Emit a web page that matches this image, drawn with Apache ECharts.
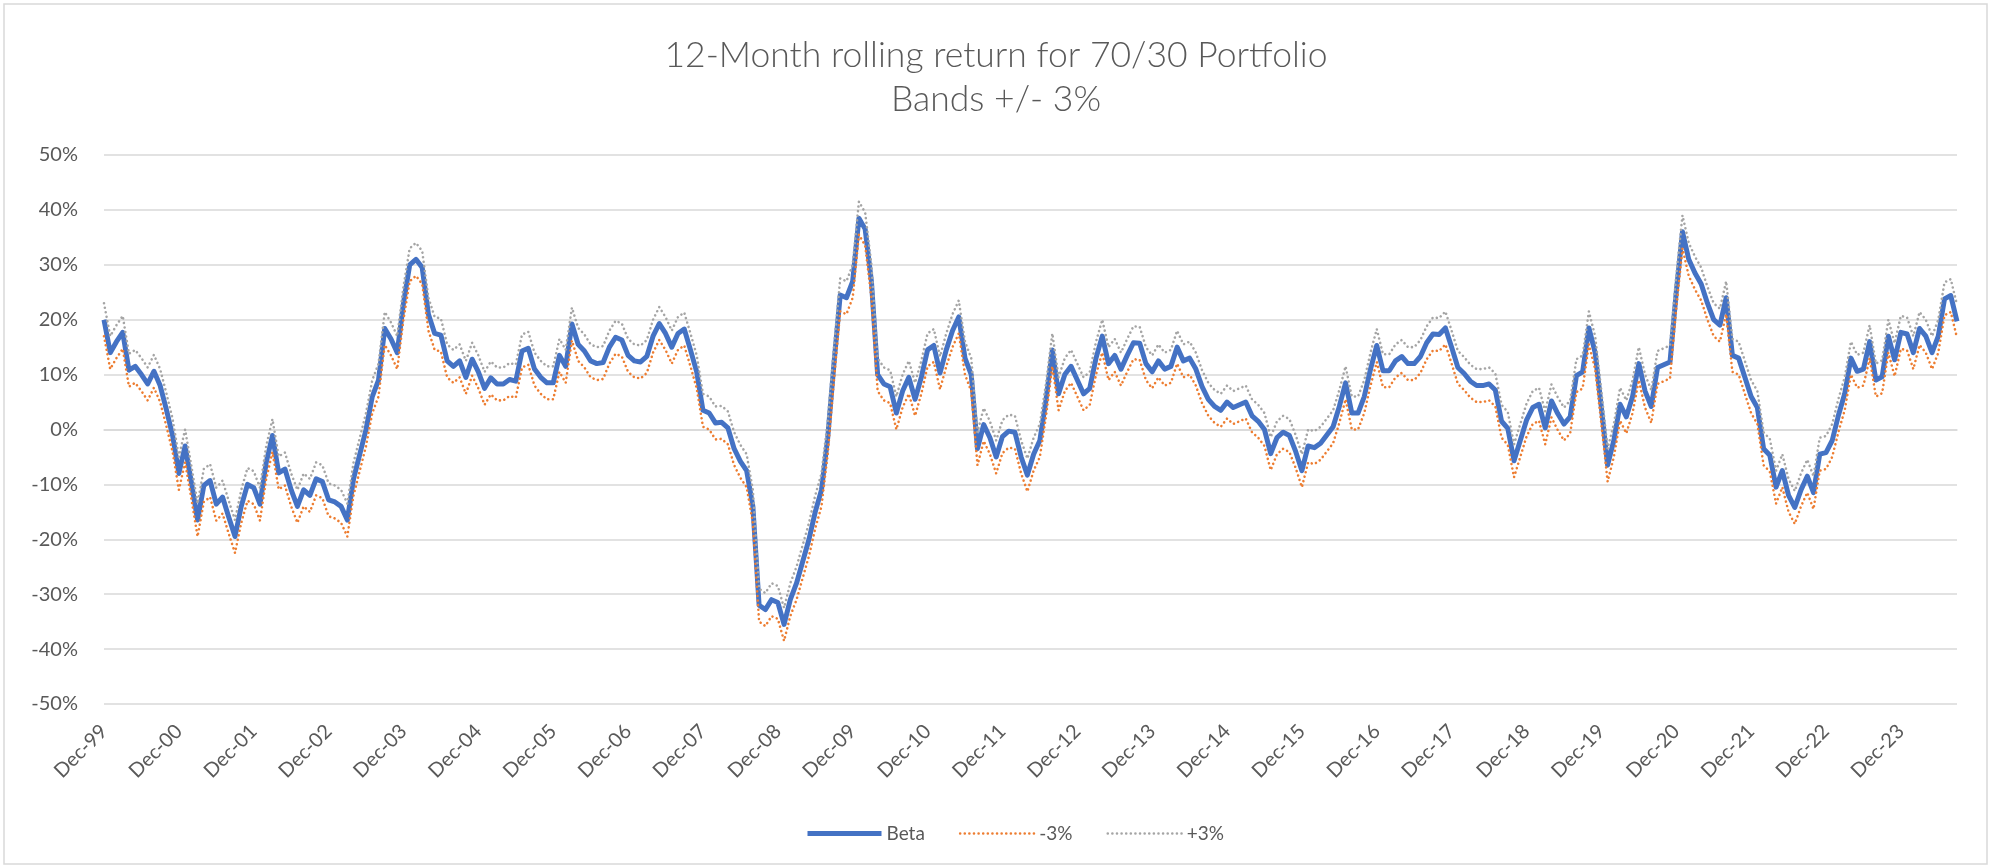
<!DOCTYPE html>
<html>
<head>
<meta charset="utf-8">
<title>12-Month rolling return for 70/30 Portfolio</title>
<script src="https://cdn.jsdelivr.net/npm/echarts@6/dist/echarts.min.js"></script>
<style>
    html, body { margin: 0; padding: 0; background: #fff; }
    #app-chart { width: 1992px; height: 868px; }
</style>
</head>
<body>
<div id="app-chart"></div>
<script>
//======================================================================================================================
// Data (monthly, Dec-99 .. Sep-24, values in %)
//======================================================================================================================

var firstYear = 1999;
var firstMonth = 11; // December
var monthNames = ['Jan', 'Feb', 'Mar', 'Apr', 'May', 'Jun', 'Jul', 'Aug', 'Sep', 'Oct', 'Nov', 'Dec'];
var bandWidth = 3; // "Bands +/- 3%"
var yTicks = { min: -50, max: 50, step: 10 };

var beta = [
    20, 14, 16, 17.7, 10.8, 11.5, 10, 8.3, 10.6, 8, 3.6, -1.1,
    -8, -3, -9.6, -16.5, -10.2, -9.3, -13.6, -12.3, -16, -19.5, -14, -10,
    -10.6, -13.6, -6, -1.1, -7.9, -7.2, -11, -14, -11, -12, -9, -9.5,
    -12.8, -13.2, -14, -16.5, -9, -4.5, 0, 6, 9, 18.4, 16.5, 14,
    23, 30, 31, 29.5, 21, 17.5, 17.2, 12.5, 11.5, 12.5, 9.5, 12.8,
    10.5, 7.5, 9.4, 8.3, 8.3, 9.1, 8.8, 14.3, 14.8, 11, 9.5, 8.5,
    8.5, 13.5, 11.5, 19.2, 15.5, 14.3, 12.5, 12, 12.2, 15, 16.8, 16.3,
    13.5, 12.5, 12.3, 13.3, 17, 19.3, 17.5, 15, 17.5, 18.3, 14.5, 10.5,
    3.5, 3, 1.2, 1.3, 0.3, -3.5, -5.8, -7.5, -14, -32, -32.8, -31,
    -31.5, -35.5, -31, -28, -24, -20, -15, -11, -1.5, 12, 24.5, 24,
    27, 38.5, 36.5, 27, 10, 8.3, 7.8, 3, 7, 9.5, 5.5, 9.5,
    14.5, 15.3, 10.3, 14.5, 18, 20.5, 13, 10, -3.5, 0.9, -1.5, -5,
    -1.3, -0.3, -0.5, -5, -8.3, -4.5, -2, 5.5, 14.5, 6.5, 10, 11.5,
    9, 6.5, 7.5, 13, 17, 12, 13.5, 11, 13.5, 15.8, 15.7, 12,
    10.5, 12.5, 11, 11.5, 15, 12.5, 13, 11, 7.8, 5.5, 4.2, 3.5,
    5, 4, 4.5, 5, 2.5, 1.5, 0, -4.4, -1.5, -0.5, -1.1, -4,
    -7.5, -3, -3.3, -2.5, -1, 0.5, 4.2, 8.5, 3, 3, 6, 11,
    15.3, 10.7, 10.7, 12.5, 13.3, 12, 12, 13.3, 15.8, 17.4, 17.3, 18.5,
    15, 11.3, 10.2, 8.8, 8, 8, 8.3, 7.2, 1.5, 0.2, -5.7, -2,
    1.7, 4, 4.6, 0.3, 5.2, 2.9, 1, 2.3, 9.8, 10.5, 18.5, 14,
    4, -6.5, -2, 4.6, 2.3, 6, 12, 7, 4.2, 11.3, 11.8, 12.3,
    25, 36, 31, 28.5, 26.5, 23, 20, 19, 24, 13.5, 13, 9.5,
    6, 4, -3.5, -4.7, -10.5, -7.5, -12, -14.2, -11, -8.5, -11.5, -4.5,
    -4.2, -2, 2.6, 6.5, 13, 10.6, 11, 16, 9, 9.6, 17, 12.7,
    17.7, 17.4, 14, 18.4, 17, 14, 17, 23.8, 24.4, 19.7
];

// month labels like "Dec-99"
var categories = beta.map(function(v, i) {
    var m = firstMonth + i;
    var yy = (firstYear + Math.floor(m / 12)) % 100;
    return monthNames[m % 12] + '-' + (yy < 10 ? '0' : '') + yy;
});

var lowerBand = beta.map(function(v) { return +(v - bandWidth).toFixed(2); });
var upperBand = beta.map(function(v) { return +(v + bandWidth).toFixed(2); });

//======================================================================================================================
// Chart
//======================================================================================================================

var font = 'Lato, "Liberation Sans", sans-serif';
var textColor = '#595959';
var gridColor = '#D9D9D9';
var dots = [0.01, 4.6];

echarts.init(document.getElementById('app-chart')).setOption({
    backgroundColor: '#fff',
    animation: false,
    textStyle: { fontFamily: font },
    title: {
        text: '12-Month rolling return for 70/30 Portfolio\nBands +/- 3%',
        left: 'center',
        top: 29,
        textStyle: { fontFamily: font, fontSize: 35.5, fontWeight: 300, color: textColor, lineHeight: 44 }
    },
    graphic: [{
        type: 'rect',
        shape: { x: 4, y: 4, width: 1983, height: 860 },
        style: { fill: 'none', stroke: gridColor, lineWidth: 1.5 },
        silent: true
    }],
    legend: {
        bottom: 20,
        left: 800,
        itemWidth: 74,
        itemHeight: 12,
        itemGap: 34,
        itemStyle: { opacity: 0 },
        lineStyle: { width: 'inherit' },
        textStyle: { fontFamily: font, fontSize: 19, color: textColor },
        data: ['Beta', '-3%', '+3%']
    },
    grid: { left: 104, right: 35, top: 155, bottom: 164, containLabel: false },
    xAxis: {
        type: 'category',
        data: categories,
        boundaryGap: false,
        axisLine: { lineStyle: { color: gridColor, width: 1.5 } },
        axisTick: { show: false },
        axisLabel: {
            rotate: 45,
            interval: function(i) { return i % 12 === 0; },
            fontSize: 20,
            color: textColor,
            margin: 24
        },
        splitLine: { show: false }
    },
    yAxis: {
        type: 'value',
        min: yTicks.min,
        max: yTicks.max,
        interval: yTicks.step,
        axisLine: { show: false },
        axisTick: { show: false },
        axisLabel: { formatter: '{value}%', fontSize: 20, color: textColor, margin: 26 },
        splitLine: { lineStyle: { color: gridColor, width: 1.5 } }
    },
    series: [{
        name: 'Beta',
        type: 'line',
        data: beta,
        showSymbol: false,
        symbol: 'none',
        lineStyle: { color: '#4472C4', width: 5, join: 'round' },
        itemStyle: { color: '#4472C4' }
    }, {
        name: '-3%',
        type: 'line',
        data: lowerBand,
        showSymbol: false,
        symbol: 'none',
        lineStyle: { color: '#ED7D31', width: 2.6, type: dots, cap: 'round' },
        itemStyle: { color: '#ED7D31' }
    }, {
        name: '+3%',
        type: 'line',
        data: upperBand,
        showSymbol: false,
        symbol: 'none',
        lineStyle: { color: '#A5A5A5', width: 2.6, type: dots, cap: 'round' },
        itemStyle: { color: '#A5A5A5' }
    }]
});
</script>
</body>
</html>
